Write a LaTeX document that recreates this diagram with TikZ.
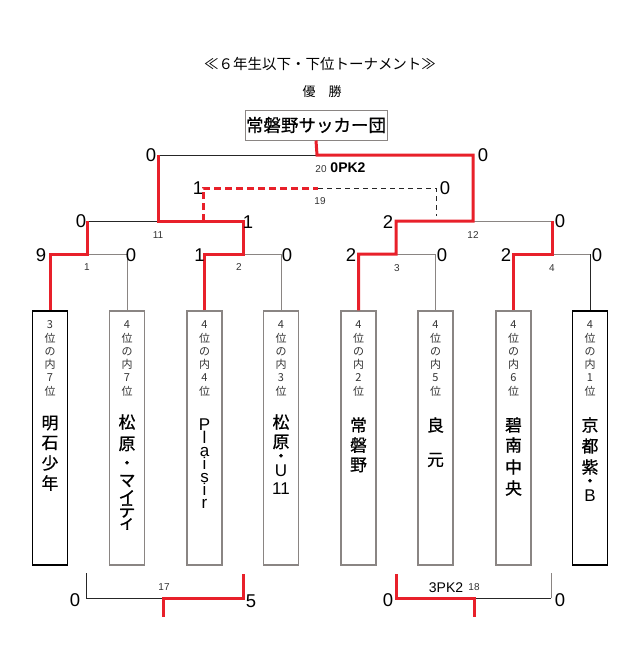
\documentclass[tikz,border=0pt]{standalone}
\usepackage{fontspec}
\setmainfont{Noto Sans CJK JP}
\newfontfamily\cjkm[FakeBold=0.8]{Noto Sans CJK JP}
\newfontfamily\lat{Liberation Sans}
\definecolor{tred}{HTML}{E8202A}
\definecolor{tgray}{HTML}{8A8583}
\definecolor{tdark}{HTML}{333333}
\newcommand\tightlines{\lineskiplimit=-50pt\relax\lineskip=0pt\relax}
\newcommand\vchars[4]{\foreach \c/\yy [count=\k] in {#3} \node[#2] (#4\k) at (#1,\yy) {\c};}
\newcommand\vrank[3]{\foreach \c [count=\k] in {#2} \node[rank] (#3\k) at (#1,{325+(\k-1)*13.2}) {\c};}
\begin{document}
\begin{tikzpicture}[x=1pt,y=-1pt,
  win/.style={draw=tred, line width=3pt, line join=miter},
  lose/.style={draw=tgray, line width=1pt},
  blk/.style={draw=black!85, line width=0.9pt},
  team/.style={draw=#1, line width=1.1pt, minimum width=35pt, minimum height=254pt, inner sep=0pt},
  score/.style={font=\lat\fontsize{18.5}{18}\selectfont, inner sep=0pt},
  mno/.style={font=\lat\fontsize{10}{10}\selectfont, text=tdark, inner sep=0pt},
  pk/.style={font=\lat\fontsize{14}{14}\selectfont, inner sep=0pt},
  rank/.style={font=\fontsize{11}{11}\selectfont, text=tdark, inner sep=0pt},
  tname/.style={font=\cjkm\fontsize{16.8}{16.8}\selectfont, inner sep=0pt},
  lname/.style={font=\lat\fontsize{17}{17}\selectfont, inner sep=0pt},
]
\useasboundingbox (0,0) rectangle (640,670);

% titles
\node[font=\fontsize{14.5}{15}\selectfont, inner sep=0pt] (title) at (320,64) {≪６年生以下・下位トーナメント≫};
\node[font=\fontsize{13}{13}\selectfont, inner sep=0pt] (yusho) at (322,92) {優　勝};
\node[draw=tgray, line width=1pt, minimum width=142pt, minimum height=30pt, inner sep=0pt,
      font=\cjkm\fontsize{17.5}{17.5}\selectfont] (champ) at (316,125) {常磐野サッカー団};

% team boxes
\node[team=black] (t1) at (50,438) {};
\node[team=tgray] (t2) at (127,438) {};
\node[team=tgray] (t3) at (204.5,438) {};
\node[team=tgray] (t4) at (281,438) {};
\node[team=tgray] (t5) at (358.5,438) {};
\node[team=tgray] (t6) at (435.5,438) {};
\node[team=tgray] (t7) at (513.5,438) {};
\node[team=black] (t8) at (590,438) {};

% rank texts
\vrank{50}{3,位,の,内,7,位}{ra}
\vrank{127}{4,位,の,内,7,位}{rb}
\vrank{204.5}{4,位,の,内,4,位}{rc}
\vrank{281}{4,位,の,内,3,位}{rd}
\vrank{358.5}{4,位,の,内,2,位}{re}
\vrank{435.5}{4,位,の,内,5,位}{rf}
\vrank{513.5}{4,位,の,内,6,位}{rg}
\vrank{590}{4,位,の,内,1,位}{rh}

% team names
\vchars{50}{tname}{明/423,石/443,少/463,年/483}{na}
\vchars{127}{tname}{松/422,原/444,・/465,マ/481,イ/497,テ/511,ィ/524}{nb}
\node[anchor=north, align=center, inner sep=0pt,
      font=\lat\fontsize{17}{13}\selectfont\tightlines] (nc)
      at (204.5,419) {P\\l\\a\\i\\s\\i\\r};
\vchars{281}{tname}{松/422,原/442,・/458}{nd}
\vchars{281}{lname}{U/471,11/489}{ne}
\vchars{358.5}{tname}{常/425,磐/445,野/465}{nf}
\vchars{435.5}{tname}{良/425,元/460}{ng}
\vchars{513.5}{tname}{碧/425,南/445,中/467,央/488}{nh}
\vchars{590}{tname}{京/425,都/446,紫/467,・/483}{ni}
\vchars{590}{lname}{B/496}{nj}

% junction coordinates
\coordinate (j1) at (87,254);
\coordinate (j2) at (243,254);
\coordinate (j3) at (396,254);
\coordinate (j4) at (552,254);
\coordinate (l1) at (87,221);
\coordinate (l2) at (243,221);
\coordinate (l3) at (396,221);
\coordinate (l4) at (552,221);
\coordinate (k11) at (158,221);
\coordinate (k12) at (473,221);
\coordinate (fl) at (158,155);
\coordinate (fr) at (473,155);
\coordinate (f) at (317,155);
\coordinate (d1) at (203,221);
\coordinate (d1t) at (203,188);
\coordinate (dm) at (318,188);
\coordinate (d2t) at (436,188);
\coordinate (d2) at (436,216);

% losers' lines
\draw[lose] (j1) -- (j1 -| t2.north) -- (t2.north);
\draw[lose] (j2) -- (j2 -| t4.north) -- (t4.north);
\draw[lose] (j3) -- (j3 -| t6.north) -- (t6.north);
\draw[lose] (j4) -- (j4 -| t8.north);
\draw[blk] (j4 -| t8.north) -- (t8.north);
\draw[blk] (l1) -- (k11);
\draw[lose] (l4) -- (k12);
\draw[blk] (fl) -- (f);

% winners' lines
\draw[win] (t1.north) -- (t1.north |- j1) -- (j1) -- (l1);
\draw[win] (t3.north) -- (t3.north |- j2) -- (j2) -- (l2) -- (k11) -- (fl);
\draw[win] (t5.north) -- (t5.north |- j3) -- (j3) -- (l3) -- (k12) -- (fr) -- (f) -- (champ.south);
\draw[win] (t7.north) -- (t7.north |- j4) -- (j4) -- (l4);

% 3rd place (dashed)
\draw[win, dash pattern=on 7pt off 4pt] (d1) -- (d1t) -- (dm);
\draw[blk, line width=0.8pt, dash pattern=on 5pt off 4pt] (dm) -- (d2t) -- (d2);

% bottom matches
\coordinate (b17l) at (86,573);
\coordinate (b17lb) at (86,598);
\coordinate (b17m) at (163,598);
\coordinate (b17d) at (163,617);
\coordinate (b17r) at (243,574);
\coordinate (b17rb) at (243,598);
\draw[blk] (b17l) -- (b17lb) -- (b17m);
\draw[win] (b17r) -- (b17rb) -- (b17m) -- (b17d);
\coordinate (b18l) at (396,574);
\coordinate (b18lb) at (396,598);
\coordinate (b18m) at (474,598);
\coordinate (b18d) at (474,617);
\coordinate (b18rb) at (551,598);
\coordinate (b18r) at (551,573);
\draw[blk] (b18m) -- (b18rb);
\draw[lose] (b18rb) -- (b18r);
\draw[win] (b18l) -- (b18lb) -- (b18m) -- (b18d);

% scores
\node[score] (s1a) at (41,255) {9};
\node[score] (s1b) at (131,255) {0};
\node[score] (s2a) at (199.5,255) {1};
\node[score] (s2b) at (287,255) {0};
\node[score] (s3a) at (351,255) {2};
\node[score] (s3b) at (442,255) {0};
\node[score] (s4a) at (506,255) {2};
\node[score] (s4b) at (597,255) {0};
\node[score] (s11a) at (81,221) {0};
\node[score] (s11b) at (248,222) {1};
\node[score] (s12a) at (388,222) {2};
\node[score] (s12b) at (560,221) {0};
\node[score] (s20a) at (151,155) {0};
\node[score] (s20b) at (483,155) {0};
\node[score] (s19a) at (198,188) {1};
\node[score] (s19b) at (445,188) {0};
\node[score] (s17a) at (75,600) {0};
\node[score] (s17b) at (251,601) {5};
\node[score] (s18a) at (388,600) {0};
\node[score] (s18b) at (560,600) {0};

% match numbers
\node[mno] (m1) at (87,267) {1};
\node[mno] (m2) at (239,267) {2};
\node[mno] (m3) at (397,268) {3};
\node[mno] (m4) at (552,268) {4};
\node[mno] (m11) at (158,235) {11};
\node[mno] (m12) at (473,235) {12};
\node[mno] (m19) at (320,201) {19};
\node[mno] (m20) at (321,169) {20};
\node[mno] (m17) at (164,587) {17};
\node[mno] (m18) at (474,587) {18};
\node[pk, font=\lat\bfseries\fontsize{14}{14}\selectfont] (pk20) at (348,168) {0PK2};
\node[pk] (pk18) at (446,588) {3PK2};
\end{tikzpicture}
\end{document}
